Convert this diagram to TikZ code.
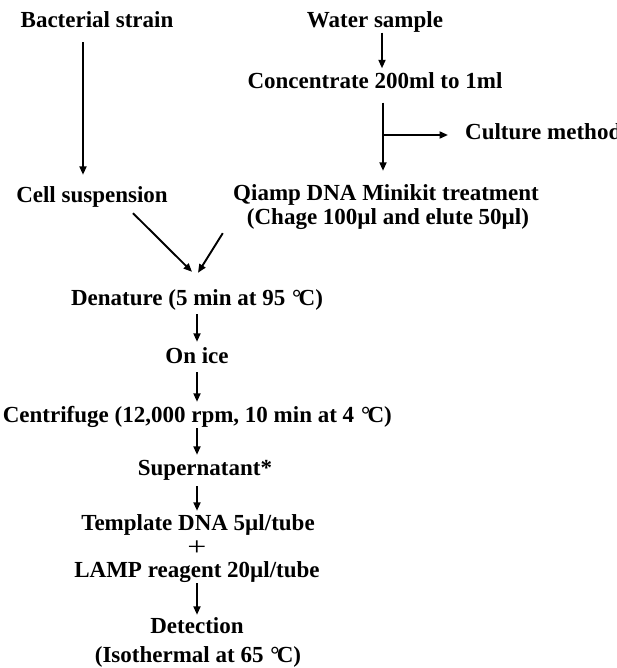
\documentclass[tikz,border=0pt]{standalone}
\usepackage{fontspec}
\usepackage{graphicx}
\setmainfont{Liberation Serif}
\usetikzlibrary{arrows.meta}
\newcommand{\degC}{\kern0.05em°\kern-0.12em C}
\begin{document}
\begin{tikzpicture}[x=1pt,y=1pt,
  lbl/.style={inner sep=0pt, font=\fontsize{23}{27}\selectfont\bfseries, text height=16pt, text depth=5pt},
  arr/.style={line width=1.9pt, -{Triangle[length=8.5pt,width=7pt]}}]
\useasboundingbox (0,0) rectangle (617,-668);
\fill[white] (0,0) rectangle (617,-668);
% nodes
\node[lbl] (bs) at (97,-22) {Bacterial strain};
\node[lbl] (ws) at (375,-22) {Water sample};
\node[lbl] (conc) at (375,-83) {Concentrate 200ml to 1ml};
\node[lbl, anchor=west] (cult) at (465,-134) {Culture method};
\node[lbl] (cs) at (92,-197) {Cell suspension};
\node[lbl] (qi) at (386,-195) {Qiamp DNA Minikit treatment};
\node[lbl] (ch) at (388,-219) {(Chage 100µl and elute 50µl)};
\node[lbl] (den) at (197,-300) {Denature (5 min at 95 \degC)};
\node[lbl] (ice) at (197,-358) {On ice};
\node[lbl, anchor=east] (cen) at (392,-417) {Centrifuge (12,000 rpm, 10 min at 4 \degC)};
\node[lbl] (sup) at (205,-470) {Supernatant*};
\node[lbl] (tmp) at (198,-525) {Template DNA 5µl/tube};
\node[inner sep=0pt, font=\fontsize{26}{26}\selectfont] (plus) at (197,-548) {\scalebox{1.3}[1]{+}};
\node[lbl] (lamp) at (197,-572) {LAMP reagent 20µl/tube};
\node[lbl] (det) at (197,-628) {Detection};
\node[lbl] (iso) at (198,-657) {(Isothermal at 65 \degC)};
\coordinate (br) at (383,-135);
% connectors
\draw[arr] ([xshift=-14pt,yshift=-9.5pt]bs.south) -- ([xshift=-9pt,yshift=11.5pt]cs.north);
\draw[arr] ([xshift=7pt]ws.south) -- ([xshift=7pt,yshift=4pt]conc.north);
\draw[arr] ([xshift=8pt,yshift=-9pt]conc.south) -- ([xshift=-3pt,yshift=13.5pt]qi.north);
\draw[arr] (br) -- ([xshift=-17pt,yshift=-1pt]cult.west);
\draw[arr] ([xshift=41pt,yshift=-5.5pt]cs.south) -- ([xshift=-5pt,yshift=17.5pt]den.north);
\draw[arr] ([xshift=-24pt,yshift=-3.5pt]ch.south west) -- ([xshift=1pt,yshift=16.5pt]den.north);
\draw[arr] ([yshift=-3.5pt]den.south) -- ([yshift=5.5pt]ice.north);
\draw[arr] ([yshift=-3.5pt]ice.south) -- ([yshift=4.5pt]ice.south |- cen.north);
\draw[arr] ([yshift=-0.5pt]ice.south |- cen.south) -- ([yshift=4.5pt]ice.south |- sup.north);
\draw[arr] ([yshift=-5.5pt]ice.south |- sup.south) -- ([yshift=3.5pt]ice.south |- tmp.north);
\draw[arr] ([yshift=-0.5pt]lamp.south) -- ([yshift=2.5pt]det.north);
\end{tikzpicture}
\end{document}
